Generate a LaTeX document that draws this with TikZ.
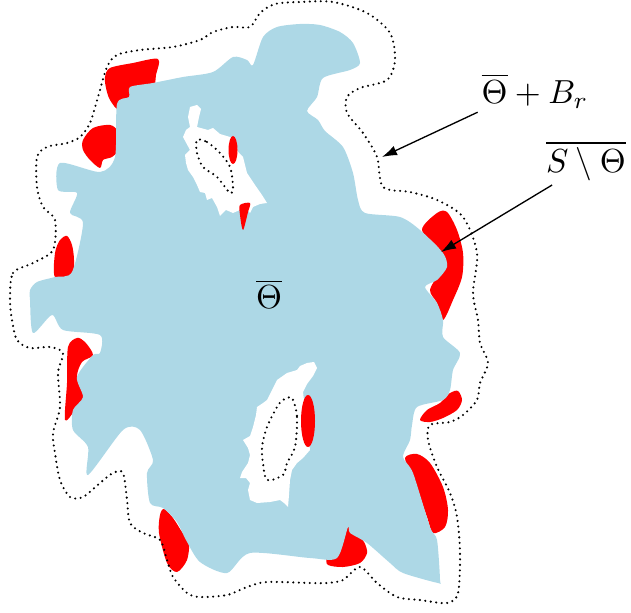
\documentclass[tikz,border=0pt]{standalone}
\usepackage{amsmath,amssymb}
\usepackage{tikz}
\usetikzlibrary{arrows.meta}

\definecolor{regionblue}{RGB}{173,216,230}

\begin{document}
\begin{tikzpicture}[x=0.3pt,y=-0.3pt,
		excess/.style={fill=red},
		hull/.style={line width=0.7pt,dash pattern=on 0pt off 1.65pt,line cap=round},
		pointer/.style={-{Latex[length=4.5pt,width=3pt]},line width=0.4pt}]
		\useasboundingbox (0,0) rectangle (631,613);
		
		% Red pieces along the border (partly hidden by the set)
		\fill[excess] plot[smooth cycle,tension=0.5] coordinates {(105,77) (110,68) (133,63) (158,59) (156,75) (153,88) (135,92) (120,110) (110,100) (106,88)};
		\fill[excess] plot[smooth cycle,tension=0.5] coordinates {(83,140) (93,128) (110,125) (118,132) (118,150) (112,157) (103,160) (100,168) (90,160) (83,150)};
		\fill[excess] plot[smooth cycle,tension=0.5] coordinates {(55,277) (55,253) (60,240) (67,236) (72,245) (74,260) (72,274)};
		\fill[excess] plot[smooth cycle,tension=0.5] coordinates {(68,347) (77,338) (85,342) (93,355) (82,362) (77,377) (84,397) (75,410) (65,420) (67,383)};
		\fill[excess] plot[smooth cycle,tension=0.5] coordinates {(159,533) (160,515) (164,509) (173,518) (182,532) (189,541) (187,560) (177,572) (167,563)};
		\fill[excess] plot[smooth cycle,tension=0.5] coordinates {(348,527) (355,533) (364,542) (367,553) (360,563) (343,567) (328,565) (327,558) (336,556) (341,543)};
		\fill[excess] plot[smooth cycle,tension=0.5] coordinates {(405,458) (417,454) (430,463) (443,487) (448,510) (445,527) (433,533) (427,517) (413,477)};
		\fill[excess] plot[smooth cycle,tension=0.5] coordinates {(420,420) (427,410) (440,403) (450,393) (458,391) (462,400) (457,410) (443,418) (430,422)};
		\fill[excess] plot[smooth cycle,tension=0.5] coordinates {(422,230) (437,213) (447,212) (457,230) (463,253) (462,277) (453,300) (443,320) (437,303) (430,290) (440,270) (440,250)};
		
		% The set Theta
		\fill[regionblue] plot[smooth cycle,tension=0.45] coordinates {
			(117,104) (129,97) (130,87) (153,83) (183,77) (213,72) (233,57) (247,60) (253,65)
			(263,37) (277,27) (300,24) (320,25) (340,32) (353,43) (360,63) (350,70) (323,78)
			(317,97) (307,111) (318,120) (325,131) (343,147) (353,173) (358,200) (365,213)
			(400,217) (420,230) (443,253) (447,267) (437,280) (425,287) (437,303) (443,320)
			(443,337) (460,353) (453,370) (450,390) (443,400) (417,407) (412,425) (410,440)
			(403,457) (413,473) (430,527) (437,540) (440,580) (438,583) (403,573) (390,563)
			(367,543) (350,533) (348,527) (337,558) (310,558) (250,553) (227,573) (200,562)
			(186,540) (177,522) (163,508) (150,503) (147,473) (153,460) (140,430) (123,430)
			(88,475) (88,447) (73,430) (73,410) (83,397) (77,377) (93,355) (100,353) (100,335)
			(63,330) (52,315) (33,333) (30,300) (30,290) (37,282) (55,277) (72,272) (83,223)
			(70,213) (77,193) (58,190) (60,163) (100,172) (115,157)};
		
		% Holes
		\fill[white] (190,107) -- (197,105) -- (201,109) -- (199,117) -- (197,127) -- (208,130)
			-- (213,128) -- (220,134) -- (230,137) -- (236,142) -- (238,152) -- (243,157)
			-- (245,165) -- (247,173) -- (255,185) -- (262,195) -- (267,203) -- (260,204)
			-- (253,207) -- (250,213) -- (246,208) -- (240,210) -- (233,213) -- (226,210)
			-- (220,216) -- (217,207) -- (212,198) -- (207,200) -- (205,193) -- (200,192)
			-- (197,185) -- (193,177) -- (188,170) -- (186,163) -- (185,155) -- (190,150)
			-- (183,137) -- (186,130) -- (190,127) -- (188,117) -- cycle;
		\fill[white] (277,380) -- (287,373) -- (297,370) -- (300,366) -- (307,363) -- (314,362)
			-- (317,368) -- (313,376) -- (307,384) -- (303,392) -- (310,450) -- (303,458)
			-- (297,463) -- (292,470) -- (290,480) -- (289,495) -- (288,507) -- (284,503)
			-- (280,500) -- (270,502) -- (257,503) -- (250,500) -- (248,490) -- (250,483)
			-- (246,478) -- (240,478) -- (242,472) -- (248,463) -- (250,455) -- (248,448)
			-- (243,440) -- (250,436) -- (253,427) -- (256,415) -- (257,407) -- (263,403)
			-- (267,400) -- (272,390) -- cycle;
		
		% Red pieces inside the holes
		\fill[excess] (233,150) ellipse (4.5 and 14);
		\fill[excess] plot[smooth cycle,tension=0.5] coordinates {(240,205) (250,203) (248,212) (243,230) (240,215)};
		\fill[excess] (308,421) ellipse (7 and 26);
		
		% Dotted boundary of the neighbourhood
		\draw[hull] plot[smooth cycle,tension=0.5] coordinates {
			(10,300) (13,273) (33,263) (53,250) (55,220) (43,207) (37,187) (37,157) (47,147)
			(67,143) (80,137) (90,123) (98,97) (107,67) (117,55) (140,50) (173,47) (200,40)
			(213,32) (233,27) (250,27) (260,13) (275,4) (300,2) (333,2) (367,13) (390,33)
			(395,60) (387,80) (360,88) (347,97) (347,113) (363,133) (377,157) (383,187)
			(410,192) (437,200) (463,217) (477,253) (473,293) (478,320) (480,343) (488,363)
			(480,383) (477,400) (463,415) (450,422) (430,425) (428,440) (437,467) (450,493)
			(457,517) (460,553) (458,593) (447,603) (420,600) (397,597) (377,583) (360,567)
			(343,580) (327,583) (310,583) (267,582) (247,587) (227,595) (200,597) (187,593)
			(173,577) (167,560) (160,540) (143,533) (130,523) (127,500) (123,473) (113,473)
			(100,483) (83,497) (70,497) (60,480) (55,453) (53,433) (60,407) (58,373) (63,353)
			(50,347) (30,348) (17,340) (12,320)};
		\draw[hull] plot[smooth cycle,tension=0.5] coordinates {(197,140) (207,142) (220,153) (230,167) (233,187) (230,193) (217,177) (203,167) (197,153)};
		\draw[hull] plot[smooth cycle,tension=0.5] coordinates {(292,398) (297,417) (295,447) (287,463) (283,475) (267,480) (263,463) (262,447) (267,427) (277,407) (283,400)};
		
		% Labels
		\node (lbltheta) at (269,294) {$\overline{\Theta}$};
		\node[inner sep=1pt] (lblsum) at (535,91) {$\overline{\Theta}+B_r$};
		\node[inner sep=1pt] (lbldiff) at (586,161) {$\overline{S\setminus\Theta}$};
		
		% Arrows
		\coordinate (tipsum) at (382,157);
		\coordinate (tipdiff) at (441,252);
		\draw[pointer] (lblsum.south west) -- (tipsum);
		\draw[pointer] ([xshift=3pt]lbldiff.south west) -- (tipdiff);
		
	\end{tikzpicture}
\end{document}
